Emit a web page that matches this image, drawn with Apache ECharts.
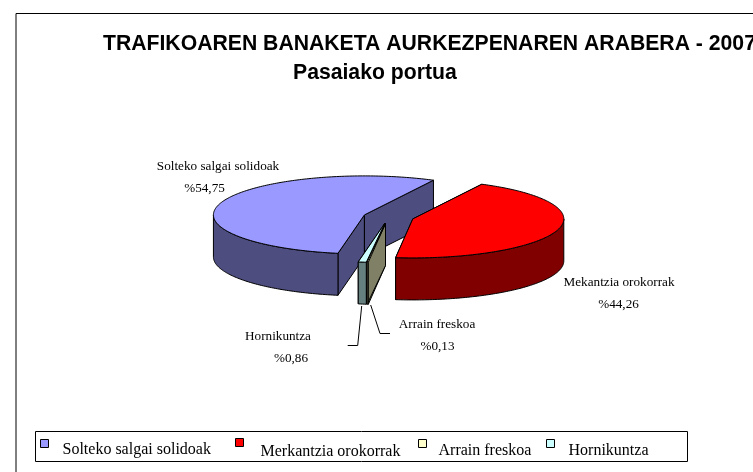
<!DOCTYPE html>
<html><head><meta charset="utf-8">
<style>html,body{margin:0;padding:0;background:#fff}#c{width:753px;height:472px}</style>
<script src="https://cdn.jsdelivr.net/npm/echarts@6/dist/echarts.min.js"></script>
</head><body><div id="c"></div>
<script>
const titleLines = ['TRAFIKOAREN BANAKETA AURKEZPENAREN ARABERA - 2007', 'Pasaiako portua'];
const categories = ['Solteko salgai solidoak', 'Merkantzia orokorrak', 'Arrain freskoa', 'Hornikuntza'];
const sliceLabels = ['Solteko salgai solidoak', 'Mekantzia orokorrak', 'Arrain freskoa', 'Hornikuntza'];
const percentLabels = ['%54,75', '%44,26', '%0,13', '%0,86'];
const values = [54.75, 44.26, 0.13, 0.86];
const topColors = ['#9999FF', '#FF0000', '#FFFFCC', '#CCFFFF'];
const sideColors = ['#4D4D80', '#800000', '#808066', '#668080'];

// pie geometry
const CX = 388.5, CY = 217, RX = 151, RY = 39, DEPTH = 42, EXPLODE = 25.4, START = 27.2;
const clockwiseOrder = [1, 2, 3, 0];
const total = values.reduce((a, b) => a + b, 0);
const spans = {};
let cursor = START;
clockwiseOrder.forEach(i => { const s = values[i] / total * 360; spans[i] = [cursor, cursor + s]; cursor += s; });
const rad = d => d * Math.PI / 180;

function renderSlice(index) {
  return function (params, api) {
    const value = api.value(0);
    const a0 = spans[index][0], a1 = a0 + value / total * 360, mid = (a0 + a1) / 2;
    const ox = CX + EXPLODE * Math.sin(rad(mid)), oy = CY - EXPLODE * Math.cos(rad(mid)) * RY / RX;
    const P = (a, r, dz) => [ox + r * RX * Math.sin(rad(a)), oy - r * RY * Math.cos(rad(a)) + (dz || 0)];
    const arc = (from, to, dz) => { const n = Math.max(2, Math.ceil(Math.abs(to - from))), out = [];
      for (let k = 0; k <= n; k++) out.push(P(from + (to - from) * k / n, 1, dz)); return out; };
    const style = c => ({ fill: c, stroke: '#000', lineWidth: 1, lineJoin: 'round' });
    const poly = (pts, c) => ({ type: 'polygon', shape: { points: pts }, style: style(c) });
    const side = sideColors[index], children = [];
    [a0, a1].forEach(a => {
      children.push(poly([P(a, 0), P(a, 1), P(a, 1, DEPTH), P(a, 0, DEPTH)], side));
    });
    const w0 = Math.max(a0, 90), w1 = Math.min(a1, 270);
    if (w1 > w0) children.push(poly(arc(w0, w1, 0).concat(arc(w1, w0, DEPTH)), side));
    children.push(poly([P(a0, 0)].concat(arc(a0, a1, 0)), topColors[index]));
    return { type: 'group', children };
  };
}

const labelPositions = [[218, 167, 204.5, 189], [619, 282.5, 618.5, 305], [437, 325, 437.5, 347], [278, 337, 291, 358.7]];
const leaderLines = [null, null, [[370.7, 305], [380, 333.5], [390, 333.5]], [[361.7, 306], [357.7, 345.5], [347.7, 345.5]]];
const legendIconX = [40, 235, 418, 546];
const legendIconY = [439, 438, 439, 439];
const legendTextGap = [9, 12, 7, 9];
const legendTextDrop = [12, 18, 14, 14];
const serif = 'Liberation Serif';
const graphics = [
  { type: 'polyline', shape: { points: [[16, 480], [16, 13.5], [760, 13.5]] }, style: { stroke: '#000', fill: null, lineWidth: 1 } },
  { type: 'rect', shape: { x: 35.5, y: 431.5, width: 652, height: 30 }, style: { stroke: '#000', fill: '#fff', lineWidth: 1 } }
];
values.forEach((v, i) => {
  const p = labelPositions[i];
  graphics.push({ type: 'text', x: p[0], y: p[1], style: { text: sliceLabels[i], font: '13.2px ' + serif, fill: '#000', textAlign: 'center', textVerticalAlign: 'middle' } });
  graphics.push({ type: 'text', x: p[2], y: p[3], style: { text: percentLabels[i], font: '13.2px ' + serif, fill: '#000', textAlign: 'center', textVerticalAlign: 'middle' } });
  if (leaderLines[i]) graphics.push({ type: 'polyline', shape: { points: leaderLines[i] }, style: { stroke: '#000', fill: null, lineWidth: 1 } });
});

const titleFont = { fontFamily: 'Liberation Sans', fontWeight: 'bold', fontSize: 21.2, color: '#000' };
const chart = echarts.init(document.getElementById('c'), null, { renderer: 'canvas' });
chart.setOption({
  animation: false,
  backgroundColor: '#fff',
  title: [
    { text: titleLines[0], left: 103, top: 34, textStyle: titleFont, padding: 0 },
    { text: titleLines[1], left: 293, top: 63, textStyle: titleFont, padding: 0 }
  ],
  legend: categories.map((c, i) => ({
    data: [c], left: legendIconX[i], top: legendIconY[i], itemWidth: 8, itemHeight: 8, padding: 0,
    icon: 'rect', selectedMode: false, z: 5,
    itemStyle: { borderColor: '#000', borderWidth: 1 },
    formatter: '{t|{name}}',
    textStyle: { rich: { t: { fontFamily: serif, fontSize: 16, color: '#000', padding: [legendTextDrop[i], 0, 0, legendTextGap[i]] } } }
  })),
  graphic: graphics,
  series: [0, 3, 2, 1].map((i, k) => ({
    type: 'custom', name: categories[i], coordinateSystem: 'none', silent: true, z: 2 + k,
    itemStyle: { color: topColors[i] },
    data: [[values[i]]],
    renderItem: renderSlice(i)
  }))
});
</script></body></html>
